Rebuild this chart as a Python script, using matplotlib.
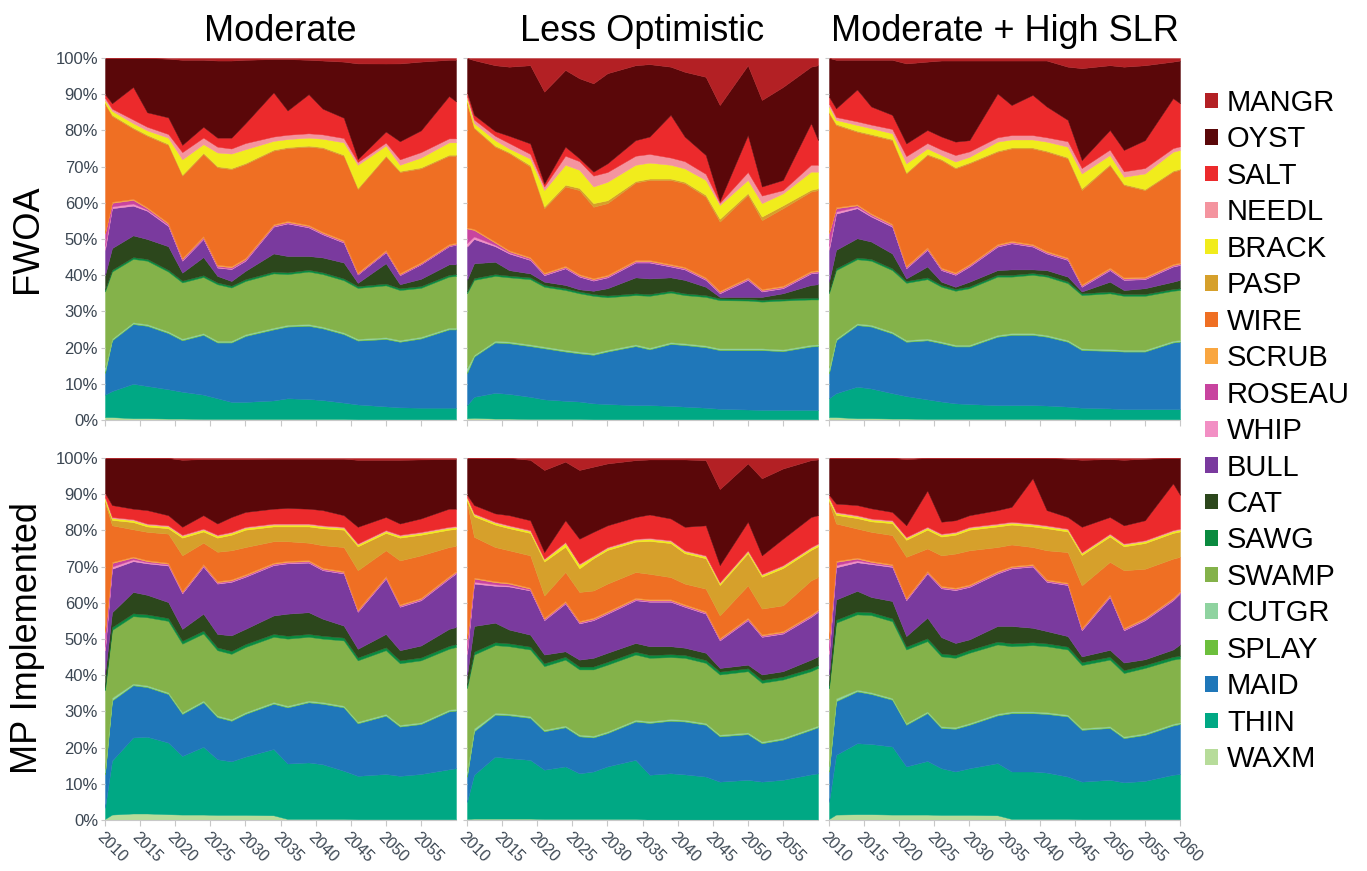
import numpy as np
import matplotlib
matplotlib.use("Agg")
import matplotlib.pyplot as plt
from matplotlib.patches import Patch

plt.rcParams["font.family"] = ["Liberation Sans", "DejaVu Sans"]

years = [2010, 2011, 2014, 2016, 2019, 2021, 2024, 2026, 2028, 2030, 2034,
         2036, 2039, 2041, 2044, 2046, 2050, 2052, 2055, 2059, 2060]

# stacking order, bottom -> top
classes = ["WAXM", "THIN", "MAID", "SPLAY", "CUTGR", "SWAMP", "SAWG", "CAT", "BULL",
           "WHIP", "ROSEAU", "SCRUB", "WIRE", "PASP", "BRACK", "NEEDL", "SALT", "OYST", "MANGR"]
colors = ["#b7dc9a", "#00a884", "#1f77b9", "#6cbf3c", "#8fd3a0", "#84b24a", "#0a8a3f", "#2c471c",
          "#7a3a9e", "#f28fc4", "#c8449f", "#f9a640", "#ef6f23", "#d6a02b", "#f1ec1c", "#f4949f",
          "#ec2a2c", "#5a0709", "#b32024"]

scenarios = ["Moderate", "Less Optimistic", "Moderate + High SLR"]
rows = ["FWOA", "MP Implemented"]

# % of area per class, one row per class (same order as classes)
moderate_fwoa = [
    [0.8, 0.8, 0.5, 0.5, 0.4, 0.4, 0.3, 0.3, 0.3, 0.3, 0.3, 0.3, 0.3, 0.3, 0.3, 0.2, 0.2, 0.2, 0.2, 0.2, 0.2],  # WAXM
    [6.2, 7.2, 9.5, 8.9, 8.1, 7.4, 6.7, 5.7, 4.7, 4.7, 5.1, 5.7, 5.5, 5.2, 4.5, 4.1, 3.5, 3.3, 3.2, 3.2, 3.2],  # THIN
    [6.0, 14.0, 16.5, 16.6, 15.5, 14.2, 16.5, 15.4, 16.4, 18.2, 19.6, 19.8, 20.2, 19.8, 18.9, 17.7, 18.3, 18.1, 19.1, 21.6, 21.6],  # MAID
    [0.5, 0.2, 0.2, 0.2, 0.2, 0.2, 0.2, 0.2, 0.2, 0.2, 0.2, 0.2, 0.2, 0.2, 0.2, 0.2, 0.2, 0.2, 0.2, 0.2, 0.2],  # SPLAY
    [1.0, 0.3, 0.3, 0.3, 0.3, 0.3, 0.3, 0.3, 0.3, 0.3, 0.3, 0.3, 0.3, 0.3, 0.3, 0.3, 0.3, 0.3, 0.3, 0.3, 0.3],  # CUTGR
    [21.0, 18.5, 17.5, 17.5, 16.5, 15.5, 15.5, 15.6, 14.7, 14.7, 15.0, 14.0, 14.5, 14.5, 14.4, 14.1, 14.1, 13.8, 13.5, 14.1, 14.3],  # SWAMP
    [0.5, 0.5, 0.5, 0.5, 0.5, 0.5, 0.5, 0.5, 0.5, 0.5, 0.5, 0.5, 0.5, 0.5, 0.5, 0.5, 0.5, 0.5, 0.5, 0.5, 0.5],  # SAWG
    [4.0, 6.0, 6.0, 5.5, 6.5, 2.2, 5.0, 1.8, 1.3, 2.3, 5.0, 4.5, 3.8, 4.1, 4.4, 0.9, 5.5, 1.1, 2.0, 2.9, 2.7],  # CAT
    [7.0, 11.0, 8.2, 7.8, 5.6, 3.3, 5.0, 2.3, 3.3, 2.8, 7.4, 9.0, 7.9, 6.4, 5.5, 2.3, 3.0, 2.5, 4.0, 5.0, 5.4],  # BULL
    [1.0, 0.5, 0.6, 0.3, 0.3, 0.2, 0.2, 0.2, 0.2, 0.2, 0.2, 0.2, 0.2, 0.2, 0.2, 0.1, 0.1, 0.1, 0.1, 0.1, 0.1],  # WHIP
    [3.5, 1.0, 1.0, 0.4, 0.3, 0.3, 0.3, 0.3, 0.3, 0.3, 0.2, 0.2, 0.2, 0.2, 0.2, 0.2, 0.2, 0.2, 0.2, 0.2, 0.2],  # ROSEAU
    [0.3, 0.3, 0.3, 0.3, 0.3, 0.3, 0.3, 0.3, 0.3, 0.3, 0.3, 0.3, 0.3, 0.3, 0.3, 0.3, 0.3, 0.3, 0.3, 0.3, 0.3],  # SCRUB
    [35.5, 23.7, 19.4, 19.7, 21.5, 22.7, 22.7, 26.9, 26.8, 25.9, 20.3, 20.1, 21.6, 23.1, 23.3, 23.1, 25.4, 27.9, 25.9, 24.4, 24.0],  # WIRE
    [0.3, 0.3, 0.3, 0.3, 0.3, 0.3, 0.3, 0.3, 0.3, 0.3, 0.3, 0.3, 0.3, 0.3, 0.3, 0.3, 0.3, 0.3, 0.3, 0.3, 0.3],  # PASP
    [0.7, 1.1, 1.2, 1.2, 1.7, 4.2, 2.4, 3.8, 4.0, 3.8, 2.4, 2.2, 2.2, 2.3, 3.4, 6.4, 2.7, 1.7, 2.7, 3.4, 3.4],  # BRACK
    [0.7, 0.6, 1.0, 1.0, 1.0, 2.0, 1.8, 1.6, 1.4, 1.7, 1.2, 1.2, 1.2, 1.2, 1.2, 0.8, 0.8, 1.5, 1.5, 1.1, 1.1],  # NEEDL
    [1.0, 1.5, 9.0, 4.0, 4.6, 2.0, 3.0, 2.5, 3.0, 5.5, 12.2, 6.7, 10.8, 7.1, 5.6, 0.8, 3.0, 5.0, 6.0, 11.7, 10.2],  # SALT
    [10.0, 12.5, 8.0, 15.0, 16.2, 23.5, 18.5, 21.3, 21.3, 17.5, 9.2, 14.2, 9.5, 13.3, 15.5, 26.5, 18.5, 21.5, 19.0, 10.0, 11.5],  # OYST
    [0.0, 0.0, 0.0, 0.0, 0.2, 0.5, 0.5, 0.7, 0.7, 0.5, 0.3, 0.3, 0.5, 0.7, 1.0, 1.5, 1.5, 1.5, 1.0, 0.5, 0.5],  # MANGR
]

less_opt_fwoa = [
    [0.5, 0.6, 0.4, 0.4, 0.3, 0.3, 0.3, 0.3, 0.2, 0.2, 0.2, 0.2, 0.2, 0.2, 0.2, 0.2, 0.2, 0.2, 0.2, 0.2, 0.2],  # WAXM
    [3.6, 5.8, 7.1, 6.8, 6.1, 5.4, 5.0, 4.8, 4.4, 4.2, 3.9, 3.9, 3.7, 3.5, 3.2, 2.9, 2.7, 2.6, 2.6, 2.6, 2.6],  # THIN
    [8.8, 11.1, 13.9, 14.0, 14.0, 14.1, 13.6, 13.3, 13.4, 14.5, 16.3, 15.4, 17.1, 17.0, 16.7, 16.2, 16.4, 16.5, 16.2, 17.5, 17.6],  # MAID
    [0.5, 0.2, 0.2, 0.2, 0.2, 0.2, 0.2, 0.2, 0.2, 0.2, 0.2, 0.2, 0.2, 0.2, 0.2, 0.2, 0.2, 0.2, 0.2, 0.2, 0.2],  # SPLAY
    [1.0, 0.3, 0.3, 0.3, 0.3, 0.3, 0.3, 0.3, 0.3, 0.3, 0.3, 0.3, 0.3, 0.3, 0.3, 0.3, 0.3, 0.3, 0.3, 0.3, 0.3],  # CUTGR
    [20.6, 20.7, 17.9, 17.7, 18.0, 16.5, 16.5, 16.1, 15.8, 14.5, 13.6, 14.3, 13.7, 13.3, 13.4, 13.3, 13.2, 12.9, 13.5, 12.5, 12.4],  # SWAMP
    [0.5, 0.5, 0.5, 0.5, 0.5, 0.5, 0.5, 0.5, 0.5, 0.5, 0.5, 0.5, 0.5, 0.5, 0.5, 0.5, 0.5, 0.5, 0.5, 0.5, 0.5],  # SAWG
    [3.2, 4.1, 3.4, 1.5, 1.1, 0.9, 0.9, 0.6, 0.9, 2.0, 4.4, 4.3, 3.7, 3.7, 2.3, 0.4, 0.5, 0.8, 1.5, 3.5, 3.7],  # CAT
    [9.2, 6.7, 4.3, 4.6, 3.7, 1.8, 4.6, 3.5, 2.8, 3.0, 4.1, 4.4, 3.0, 2.9, 1.9, 1.0, 4.7, 1.5, 1.4, 3.2, 3.2],  # BULL
    [1.0, 0.7, 0.4, 0.3, 0.2, 0.2, 0.2, 0.2, 0.2, 0.2, 0.2, 0.2, 0.2, 0.2, 0.2, 0.2, 0.2, 0.2, 0.2, 0.2, 0.2],  # WHIP
    [4.0, 1.8, 0.6, 0.3, 0.3, 0.2, 0.2, 0.2, 0.2, 0.2, 0.2, 0.2, 0.2, 0.2, 0.2, 0.2, 0.2, 0.2, 0.2, 0.2, 0.2],  # ROSEAU
    [0.3, 0.3, 0.3, 0.3, 0.3, 0.3, 0.3, 0.3, 0.3, 0.3, 0.3, 0.3, 0.3, 0.3, 0.3, 0.3, 0.3, 0.3, 0.3, 0.3, 0.3],  # SCRUB
    [34.3, 27.8, 26.2, 26.8, 25.0, 17.8, 21.9, 23.2, 19.7, 19.8, 21.4, 22.1, 23.2, 23.1, 22.3, 19.1, 22.8, 19.0, 21.4, 21.9, 22.1],  # WIRE
    [0.3, 0.3, 0.3, 0.3, 0.4, 0.5, 0.5, 0.6, 1.0, 0.8, 0.4, 0.4, 0.4, 0.4, 0.5, 0.8, 0.5, 1.0, 0.8, 0.5, 0.5],  # PASP
    [1.1, 1.1, 1.5, 1.0, 1.8, 4.5, 5.5, 5.0, 4.6, 5.1, 4.5, 4.4, 3.8, 3.7, 4.1, 3.8, 3.6, 3.7, 3.3, 5.0, 4.6],  # BRACK
    [0.6, 1.0, 1.2, 1.5, 1.3, 1.0, 2.5, 2.4, 3.0, 2.7, 2.5, 2.4, 2.0, 2.0, 1.7, 0.6, 2.2, 2.1, 0.9, 1.9, 1.9],  # NEEDL
    [1.0, 1.3, 1.3, 2.0, 2.9, 0.8, 2.5, 0.8, 1.1, 2.4, 4.3, 4.8, 11.8, 6.8, 5.2, 0.5, 10.2, 2.5, 2.8, 11.5, 6.8],  # SALT
    [9.5, 15.1, 18.2, 19.1, 21.6, 25.4, 21.2, 22.1, 24.4, 24.9, 20.7, 20.0, 13.3, 17.9, 21.6, 26.5, 19.3, 23.9, 25.7, 15.6, 20.7],  # OYST
    [0.0, 0.6, 2.0, 2.4, 2.0, 9.3, 3.3, 5.6, 7.0, 4.2, 2.0, 1.7, 2.4, 3.8, 5.2, 13.0, 2.0, 11.6, 8.0, 2.4, 2.0],  # MANGR
]

high_slr_fwoa = [
    [0.8, 0.8, 0.5, 0.5, 0.4, 0.4, 0.3, 0.3, 0.3, 0.3, 0.3, 0.3, 0.3, 0.3, 0.3, 0.2, 0.2, 0.2, 0.2, 0.2, 0.2],  # WAXM
    [5.2, 6.6, 8.7, 8.2, 7.0, 6.2, 5.4, 4.8, 4.3, 4.1, 3.8, 3.8, 3.8, 3.7, 3.4, 3.2, 3.0, 2.8, 2.8, 2.8, 2.8],  # THIN
    [6.9, 14.6, 17.0, 17.1, 16.5, 15.0, 16.3, 16.1, 15.7, 15.9, 18.9, 19.4, 19.4, 19.0, 17.9, 15.9, 15.9, 15.9, 15.9, 18.4, 18.6],  # MAID
    [0.5, 0.2, 0.2, 0.2, 0.2, 0.2, 0.2, 0.2, 0.2, 0.2, 0.2, 0.2, 0.2, 0.2, 0.2, 0.2, 0.2, 0.2, 0.2, 0.2, 0.2],  # SPLAY
    [1.0, 0.3, 0.3, 0.3, 0.3, 0.3, 0.3, 0.3, 0.3, 0.3, 0.3, 0.3, 0.3, 0.3, 0.3, 0.3, 0.3, 0.3, 0.3, 0.3, 0.3],  # CUTGR
    [20.6, 18.9, 17.7, 17.7, 17.0, 15.8, 16.4, 15.1, 14.9, 15.6, 16.1, 15.6, 16.1, 16.1, 15.7, 14.7, 15.4, 14.9, 14.9, 13.8, 13.8],  # SWAMP
    [0.5, 0.5, 0.5, 0.5, 0.5, 0.5, 0.5, 0.5, 0.5, 0.5, 0.5, 0.5, 0.5, 0.5, 0.5, 0.5, 0.5, 0.5, 0.5, 0.5, 0.5],  # SAWG
    [2.7, 5.1, 5.3, 4.8, 4.1, 0.7, 3.0, 0.9, 0.6, 1.3, 1.3, 1.5, 1.0, 1.3, 1.3, 0.5, 2.7, 1.1, 1.6, 2.0, 2.3],  # CAT
    [8.8, 10.0, 8.3, 6.9, 7.4, 2.8, 4.6, 3.2, 3.3, 4.2, 6.5, 7.2, 6.3, 4.6, 4.6, 1.3, 3.2, 2.8, 2.5, 4.2, 4.1],  # BULL
    [1.0, 0.6, 0.4, 0.3, 0.3, 0.2, 0.2, 0.2, 0.2, 0.2, 0.2, 0.2, 0.2, 0.2, 0.2, 0.2, 0.2, 0.2, 0.2, 0.2, 0.2],  # WHIP
    [3.6, 0.9, 0.4, 0.3, 0.2, 0.2, 0.2, 0.2, 0.2, 0.2, 0.2, 0.2, 0.2, 0.2, 0.2, 0.2, 0.2, 0.2, 0.2, 0.2, 0.2],  # ROSEAU
    [0.3, 0.3, 0.3, 0.3, 0.3, 0.3, 0.3, 0.3, 0.3, 0.3, 0.3, 0.3, 0.3, 0.3, 0.3, 0.3, 0.3, 0.3, 0.3, 0.3, 0.3],  # SCRUB
    [32.8, 22.7, 20.0, 21.6, 23.1, 25.5, 25.5, 29.7, 28.7, 27.8, 25.5, 25.5, 26.4, 27.4, 27.4, 26.0, 28.3, 25.5, 23.9, 25.5, 25.6],  # WIRE
    [0.3, 0.3, 0.3, 0.3, 0.3, 0.3, 0.3, 0.3, 0.3, 0.3, 0.3, 0.3, 0.3, 0.3, 0.3, 0.5, 0.3, 0.3, 0.3, 0.3, 0.3],  # PASP
    [1.6, 1.1, 1.6, 1.6, 1.6, 2.5, 1.5, 1.1, 1.6, 1.5, 2.5, 2.2, 2.2, 2.5, 2.9, 4.1, 2.5, 2.0, 4.3, 5.2, 5.2],  # BRACK
    [0.8, 0.8, 1.0, 1.0, 1.2, 2.0, 1.5, 1.5, 1.8, 1.5, 1.2, 1.2, 1.2, 1.2, 1.5, 1.5, 1.5, 1.5, 1.5, 1.0, 1.0],  # NEEDL
    [1.9, 2.4, 8.8, 5.0, 3.9, 3.5, 3.6, 3.6, 3.7, 3.1, 12.1, 8.3, 11.1, 8.5, 5.9, 2.2, 5.4, 5.9, 7.7, 13.8, 11.9],  # SALT
    [10.7, 13.4, 8.2, 12.9, 15.2, 22.1, 18.9, 21.0, 22.4, 22.0, 9.1, 12.3, 9.5, 12.7, 14.7, 25.4, 17.9, 23.0, 20.7, 10.1, 11.8],  # OYST
    [0.0, 0.5, 0.5, 0.5, 0.5, 1.5, 1.0, 0.7, 0.7, 0.7, 0.7, 0.7, 0.7, 0.7, 2.4, 2.8, 2.0, 2.4, 2.0, 1.0, 0.7],  # MANGR
]

moderate_mp = [
    [0.3, 1.5, 1.8, 1.8, 1.6, 1.5, 1.5, 1.4, 1.4, 1.4, 1.3, 0.3, 0.3, 0.3, 0.3, 0.2, 0.2, 0.2, 0.2, 0.2, 0.2],  # WAXM
    [3.1, 14.9, 21.0, 21.2, 19.8, 16.2, 18.7, 15.4, 14.8, 16.1, 18.3, 15.3, 15.6, 15.1, 13.3, 12.0, 12.5, 12.0, 12.5, 13.8, 14.1],  # THIN
    [9.3, 16.6, 14.4, 13.7, 13.4, 11.6, 12.3, 11.6, 11.2, 11.8, 12.5, 15.5, 16.6, 16.7, 17.5, 14.5, 16.1, 13.6, 13.8, 16.0, 15.9],  # MAID
    [0.5, 0.2, 0.2, 0.2, 0.2, 0.2, 0.2, 0.2, 0.2, 0.2, 0.2, 0.2, 0.2, 0.2, 0.2, 0.2, 0.2, 0.2, 0.2, 0.2, 0.2],  # SPLAY
    [1.0, 0.6, 0.3, 0.3, 0.3, 0.3, 0.3, 0.3, 0.3, 0.3, 0.3, 0.3, 0.3, 0.3, 0.3, 0.3, 0.3, 0.3, 0.3, 0.3, 0.3],  # CUTGR
    [21.8, 18.7, 18.6, 18.8, 19.7, 18.9, 18.5, 18.0, 18.0, 18.0, 18.0, 18.5, 17.6, 17.5, 18.0, 16.9, 17.6, 17.0, 17.1, 16.8, 17.1],  # SWAMP
    [0.8, 0.8, 0.8, 0.8, 0.8, 0.8, 0.8, 0.8, 0.8, 0.8, 0.8, 0.8, 0.8, 0.8, 0.8, 0.8, 0.8, 0.8, 0.8, 0.8, 0.8],  # SAWG
    [3.6, 4.1, 5.9, 5.4, 4.4, 3.3, 4.7, 3.7, 4.3, 4.2, 5.1, 6.1, 6.0, 4.7, 3.3, 2.4, 3.7, 2.8, 3.3, 4.7, 4.7],  # CAT
    [6.6, 12.0, 8.5, 8.7, 10.1, 9.8, 13.0, 13.9, 14.8, 14.4, 13.9, 13.9, 13.7, 13.4, 14.4, 10.2, 15.3, 12.0, 12.5, 13.9, 14.8],  # BULL
    [1.0, 0.6, 0.5, 0.3, 0.3, 0.2, 0.2, 0.2, 0.2, 0.2, 0.2, 0.2, 0.2, 0.2, 0.2, 0.2, 0.2, 0.2, 0.2, 0.2, 0.2],  # WHIP
    [4.0, 1.0, 0.5, 0.3, 0.2, 0.2, 0.2, 0.2, 0.2, 0.2, 0.2, 0.2, 0.2, 0.2, 0.2, 0.2, 0.2, 0.2, 0.2, 0.2, 0.2],  # ROSEAU
    [0.3, 0.3, 0.3, 0.3, 0.3, 0.3, 0.3, 0.3, 0.3, 0.3, 0.3, 0.3, 0.3, 0.3, 0.3, 0.3, 0.3, 0.3, 0.3, 0.3, 0.3],  # SCRUB
    [35.7, 10.1, 7.5, 7.8, 8.0, 9.8, 5.9, 8.1, 8.0, 7.5, 5.9, 5.4, 4.8, 6.2, 6.6, 10.8, 7.1, 12.1, 11.7, 8.0, 6.9],  # WIRE
    [0.4, 1.5, 2.0, 1.5, 1.5, 4.9, 3.1, 3.9, 4.3, 4.8, 4.1, 4.1, 4.5, 4.7, 4.8, 6.6, 4.8, 6.3, 5.7, 4.8, 4.7],  # PASP
    [0.8, 0.5, 0.5, 0.5, 0.5, 0.5, 0.5, 0.5, 0.5, 0.5, 0.5, 0.5, 0.5, 0.5, 0.5, 0.5, 0.5, 0.5, 0.5, 0.5, 0.5],  # BRACK
    [0.3, 0.3, 0.3, 0.3, 0.3, 0.3, 0.3, 0.3, 0.3, 0.3, 0.3, 0.3, 0.3, 0.3, 0.3, 0.3, 0.3, 0.3, 0.3, 0.3, 0.3],  # NEEDL
    [1.1, 3.3, 2.9, 3.7, 2.8, 2.2, 3.7, 3.1, 4.1, 4.1, 4.1, 4.3, 4.1, 4.2, 3.2, 4.6, 3.6, 3.1, 3.7, 5.0, 4.8],  # SALT
    [9.7, 13.0, 14.0, 14.4, 15.8, 18.5, 15.5, 17.8, 16.0, 14.6, 13.8, 13.6, 13.8, 14.2, 15.6, 18.5, 15.8, 17.6, 16.3, 13.7, 13.7],  # OYST
    [0.0, 0.0, 0.0, 0.0, 0.0, 0.5, 0.3, 0.3, 0.3, 0.3, 0.2, 0.2, 0.2, 0.2, 0.2, 0.5, 0.5, 0.5, 0.4, 0.3, 0.3],  # MANGR
]

less_opt_mp = [
    [0.3, 0.4, 0.4, 0.4, 0.4, 0.3, 0.3, 0.3, 0.3, 0.3, 0.3, 0.1, 0.1, 0.1, 0.1, 0.1, 0.1, 0.1, 0.1, 0.1, 0.1],  # WAXM
    [4.7, 12.1, 17.1, 16.7, 16.2, 13.6, 14.5, 12.6, 13.1, 14.5, 16.3, 12.4, 12.8, 12.5, 11.9, 10.5, 11.0, 10.5, 11.0, 12.5, 12.8],  # THIN
    [7.0, 12.0, 11.6, 11.8, 11.6, 10.6, 10.8, 10.2, 9.4, 9.2, 10.6, 14.3, 14.5, 14.6, 14.3, 12.5, 12.6, 10.6, 11.1, 12.3, 12.7],  # MAID
    [0.5, 0.2, 0.2, 0.2, 0.2, 0.2, 0.2, 0.2, 0.2, 0.2, 0.2, 0.2, 0.2, 0.2, 0.2, 0.2, 0.2, 0.2, 0.2, 0.2, 0.2],  # SPLAY
    [1.0, 0.6, 0.3, 0.3, 0.3, 0.3, 0.3, 0.3, 0.3, 0.3, 0.3, 0.3, 0.3, 0.3, 0.3, 0.3, 0.3, 0.3, 0.3, 0.3, 0.3],  # CUTGR
    [23.0, 20.4, 18.7, 18.6, 18.4, 17.5, 18.2, 18.0, 18.3, 18.4, 18.0, 17.5, 17.1, 17.1, 16.6, 16.6, 16.9, 16.2, 16.1, 15.7, 15.9],  # SWAMP
    [0.8, 0.8, 0.8, 0.8, 0.8, 0.8, 0.8, 0.8, 0.8, 0.8, 0.8, 0.8, 0.8, 0.8, 0.8, 0.8, 0.8, 0.8, 0.8, 0.8, 0.8],  # SAWG
    [2.7, 7.1, 5.4, 3.8, 3.3, 2.4, 1.5, 1.9, 2.4, 2.5, 2.4, 2.4, 2.2, 2.0, 2.0, 1.0, 1.0, 1.5, 1.5, 2.4, 2.4],  # CAT
    [6.0, 11.7, 10.2, 11.9, 12.2, 9.5, 13.2, 10.0, 10.4, 10.8, 11.8, 12.3, 12.3, 11.3, 10.8, 7.6, 12.3, 10.4, 10.4, 11.8, 12.3],  # BULL
    [1.0, 0.5, 0.4, 0.3, 0.2, 0.2, 0.2, 0.2, 0.2, 0.2, 0.2, 0.2, 0.2, 0.2, 0.2, 0.2, 0.2, 0.2, 0.2, 0.2, 0.2],  # WHIP
    [3.0, 0.9, 0.6, 0.5, 0.3, 0.2, 0.2, 0.2, 0.2, 0.2, 0.2, 0.2, 0.2, 0.2, 0.2, 0.2, 0.2, 0.2, 0.2, 0.2, 0.2],  # ROSEAU
    [0.3, 0.3, 0.3, 0.3, 0.3, 0.3, 0.3, 0.3, 0.3, 0.3, 0.3, 0.3, 0.3, 0.3, 0.3, 0.3, 0.3, 0.3, 0.3, 0.3, 0.3],  # SCRUB
    [37.7, 11.2, 9.4, 8.9, 8.9, 6.1, 8.0, 8.0, 7.5, 7.6, 7.1, 7.0, 6.1, 5.7, 6.2, 6.2, 8.9, 7.1, 7.1, 9.4, 8.9],  # WIRE
    [0.4, 5.7, 6.2, 6.1, 6.2, 9.4, 7.0, 6.5, 8.9, 9.3, 8.4, 9.1, 9.4, 8.4, 8.4, 8.4, 8.9, 8.8, 10.3, 8.4, 8.5],  # PASP
    [0.8, 0.5, 0.5, 0.5, 0.5, 0.5, 1.0, 1.0, 0.5, 0.5, 0.5, 0.5, 0.5, 0.5, 0.5, 0.5, 0.5, 0.5, 0.5, 0.5, 0.5],  # BRACK
    [0.3, 0.3, 0.3, 0.3, 0.3, 0.3, 0.3, 0.3, 0.3, 0.3, 0.3, 0.3, 0.3, 0.3, 0.3, 0.3, 0.3, 0.3, 0.3, 0.3, 0.3],  # NEEDL
    [0.6, 2.3, 2.3, 2.8, 2.7, 1.8, 6.0, 6.9, 6.5, 6.0, 6.0, 6.5, 6.0, 6.5, 8.3, 4.7, 7.9, 5.1, 7.3, 8.3, 7.8],  # SALT
    [10.2, 13.0, 15.3, 15.8, 16.7, 22.7, 16.2, 19.0, 18.0, 17.1, 15.7, 15.2, 16.3, 18.6, 18.0, 21.0, 16.1, 21.3, 19.4, 15.7, 15.4],  # OYST
    [0.0, 0.0, 0.0, 0.0, 0.5, 3.3, 1.0, 3.3, 2.4, 1.5, 0.6, 0.4, 0.4, 0.4, 0.6, 8.6, 1.5, 5.6, 2.9, 0.6, 0.4],  # MANGR
]

high_slr_mp = [
    [0.3, 1.5, 1.6, 1.6, 1.5, 1.5, 1.5, 1.4, 1.4, 1.4, 1.3, 0.3, 0.3, 0.3, 0.3, 0.2, 0.2, 0.2, 0.2, 0.2, 0.2],  # WAXM
    [4.7, 16.5, 19.6, 19.4, 18.8, 13.3, 14.8, 12.9, 12.0, 12.9, 14.4, 13.1, 13.1, 12.8, 11.7, 10.4, 10.9, 10.2, 10.6, 12.3, 12.5],  # THIN
    [8.4, 14.8, 14.3, 13.8, 12.9, 11.5, 13.2, 11.1, 11.8, 12.0, 13.2, 16.1, 16.1, 16.2, 16.6, 14.3, 14.3, 12.2, 12.7, 13.6, 13.8],  # MAID
    [0.5, 0.2, 0.2, 0.2, 0.2, 0.2, 0.2, 0.2, 0.2, 0.2, 0.2, 0.2, 0.2, 0.2, 0.2, 0.2, 0.2, 0.2, 0.2, 0.2, 0.2],  # SPLAY
    [1.0, 0.6, 0.3, 0.3, 0.3, 0.3, 0.3, 0.3, 0.3, 0.3, 0.3, 0.3, 0.3, 0.3, 0.3, 0.3, 0.3, 0.3, 0.3, 0.3, 0.3],  # CUTGR
    [21.6, 20.9, 20.8, 21.3, 21.2, 20.3, 19.4, 19.3, 19.1, 19.4, 19.1, 18.0, 18.3, 18.2, 18.0, 17.4, 18.4, 17.5, 18.0, 17.7, 17.6],  # SWAMP
    [0.8, 0.8, 0.8, 0.8, 0.8, 0.8, 0.8, 0.8, 0.8, 0.8, 0.8, 0.8, 0.8, 0.8, 0.8, 0.8, 0.8, 0.8, 0.8, 0.8, 0.8],  # SAWG
    [2.7, 5.6, 5.7, 4.2, 4.8, 2.9, 5.7, 4.5, 3.3, 2.9, 4.3, 4.8, 4.0, 3.4, 2.9, 1.6, 1.9, 2.1, 1.6, 2.0, 3.1],  # CAT
    [6.0, 8.9, 7.9, 9.1, 9.4, 9.9, 12.2, 13.5, 14.6, 14.5, 14.5, 15.9, 16.9, 13.6, 14.1, 7.2, 14.6, 8.9, 10.8, 13.6, 14.1],  # BULL
    [1.0, 0.6, 0.5, 0.3, 0.3, 0.2, 0.2, 0.2, 0.2, 0.2, 0.2, 0.2, 0.2, 0.2, 0.2, 0.2, 0.2, 0.2, 0.2, 0.2, 0.2],  # WHIP
    [3.0, 0.9, 0.5, 0.3, 0.2, 0.2, 0.2, 0.2, 0.2, 0.2, 0.2, 0.2, 0.2, 0.2, 0.2, 0.2, 0.2, 0.2, 0.2, 0.2, 0.2],  # ROSEAU
    [0.3, 0.3, 0.3, 0.3, 0.3, 0.3, 0.3, 0.3, 0.3, 0.3, 0.3, 0.3, 0.3, 0.3, 0.3, 0.3, 0.3, 0.3, 0.3, 0.3, 0.3],  # SCRUB
    [37.7, 10.3, 8.0, 8.0, 8.0, 11.3, 6.2, 8.4, 9.4, 9.4, 6.6, 5.9, 4.7, 8.0, 8.4, 11.7, 9.0, 15.9, 13.5, 10.8, 9.4],  # WIRE
    [0.4, 2.4, 2.9, 2.9, 3.3, 4.7, 5.2, 5.2, 5.2, 5.7, 5.7, 5.5, 5.7, 6.1, 5.7, 8.4, 7.0, 6.6, 7.1, 7.1, 7.0],  # PASP
    [0.8, 0.5, 0.5, 0.5, 0.5, 0.5, 0.5, 0.5, 0.5, 0.5, 0.5, 0.5, 0.5, 0.5, 0.5, 0.5, 0.5, 0.5, 0.5, 0.5, 0.5],  # BRACK
    [0.3, 0.3, 0.3, 0.3, 0.3, 0.3, 0.3, 0.3, 0.3, 0.3, 0.3, 0.3, 0.3, 0.3, 0.3, 0.3, 0.3, 0.3, 0.3, 0.3, 0.3],  # NEEDL
    [0.6, 2.3, 2.8, 2.8, 2.3, 3.2, 10.0, 3.3, 3.2, 3.2, 3.7, 4.1, 12.5, 4.2, 3.2, 7.0, 4.6, 5.0, 5.5, 12.9, 9.3],  # SALT
    [10.2, 12.6, 13.0, 13.9, 14.9, 18.3, 9.0, 17.6, 17.2, 15.8, 14.4, 13.5, 5.6, 14.4, 16.1, 18.5, 16.0, 18.1, 17.0, 7.0, 10.2],  # OYST
    [0.0, 0.0, 0.0, 0.0, 0.0, 0.3, 0.0, 0.0, 0.0, 0.0, 0.0, 0.0, 0.0, 0.0, 0.2, 0.5, 0.3, 0.5, 0.2, 0.0, 0.0],  # MANGR
]

panels = [[moderate_fwoa, less_opt_fwoa, high_slr_fwoa],
          [moderate_mp, less_opt_mp, high_slr_mp]]

tick_col = "#3b4652"

fig = plt.figure(figsize=(13.67, 8.71), dpi=100)
W, H = 1367, 871
lefts = [105, 467, 829]
tops = [58, 458]
pw, ph = 351, 362

for r in range(2):
    for c in range(3):
        ax = fig.add_axes([lefts[c] / W, 1 - (tops[r] + ph) / H, pw / W, ph / H])
        vals = np.array(panels[r][c], dtype=float)
        # 100% stacked area: each year sums to 100
        vals = vals / vals.sum(axis=0) * 100
        ax.stackplot(years, vals, colors=colors, edgecolor="face", linewidth=0.3)
        ax.set_xlim(2010, 2060)
        ax.set_ylim(0, 100)
        for s in ["top", "right", "left"]:
            ax.spines[s].set_visible(False)
        ax.spines["bottom"].set_color("#c8c8c8")
        ax.set_yticks(range(0, 101, 10))
        ax.tick_params(axis="y", length=3, color="#c8c8c8", labelsize=12, labelcolor=tick_col, pad=2)
        if c == 0:
            ax.set_yticklabels([f"{v}%" for v in range(0, 101, 10)])
        else:
            ax.set_yticklabels([])
        ticks = list(range(2010, 2061, 5)) if c == 2 else list(range(2010, 2056, 5))
        ax.set_xticks(ticks)
        ax.tick_params(axis="x", length=4, color="#c8c8c8", labelsize=11.5, labelcolor=tick_col, pad=3)
        if r == 1:
            ax.set_xticklabels([str(t) for t in ticks], rotation=-45, ha="left", va="top",
                               rotation_mode="anchor")
        else:
            ax.set_xticklabels([])
        if r == 0:
            ax.set_title(scenarios[c], fontsize=26, pad=12)

fig.text(28 / W, 1 - 239 / H, rows[0], rotation=90, fontsize=26, ha="center", va="center")
fig.text(28 / W, 1 - 638 / H, rows[1], rotation=90, fontsize=26, ha="center", va="center")

handles = [Patch(facecolor=col, label=name) for name, col in zip(classes, colors)][::-1]
fig.legend(handles=handles, loc="upper left", bbox_to_anchor=(1205 / W, 1 - 89 / H),
           frameon=False, fontsize=21, handlelength=0.45, handleheight=0.45,
           handletextpad=0.3, labelspacing=0.29, borderpad=0, borderaxespad=0)

fig.savefig("out.png", dpi=100, facecolor="white")
